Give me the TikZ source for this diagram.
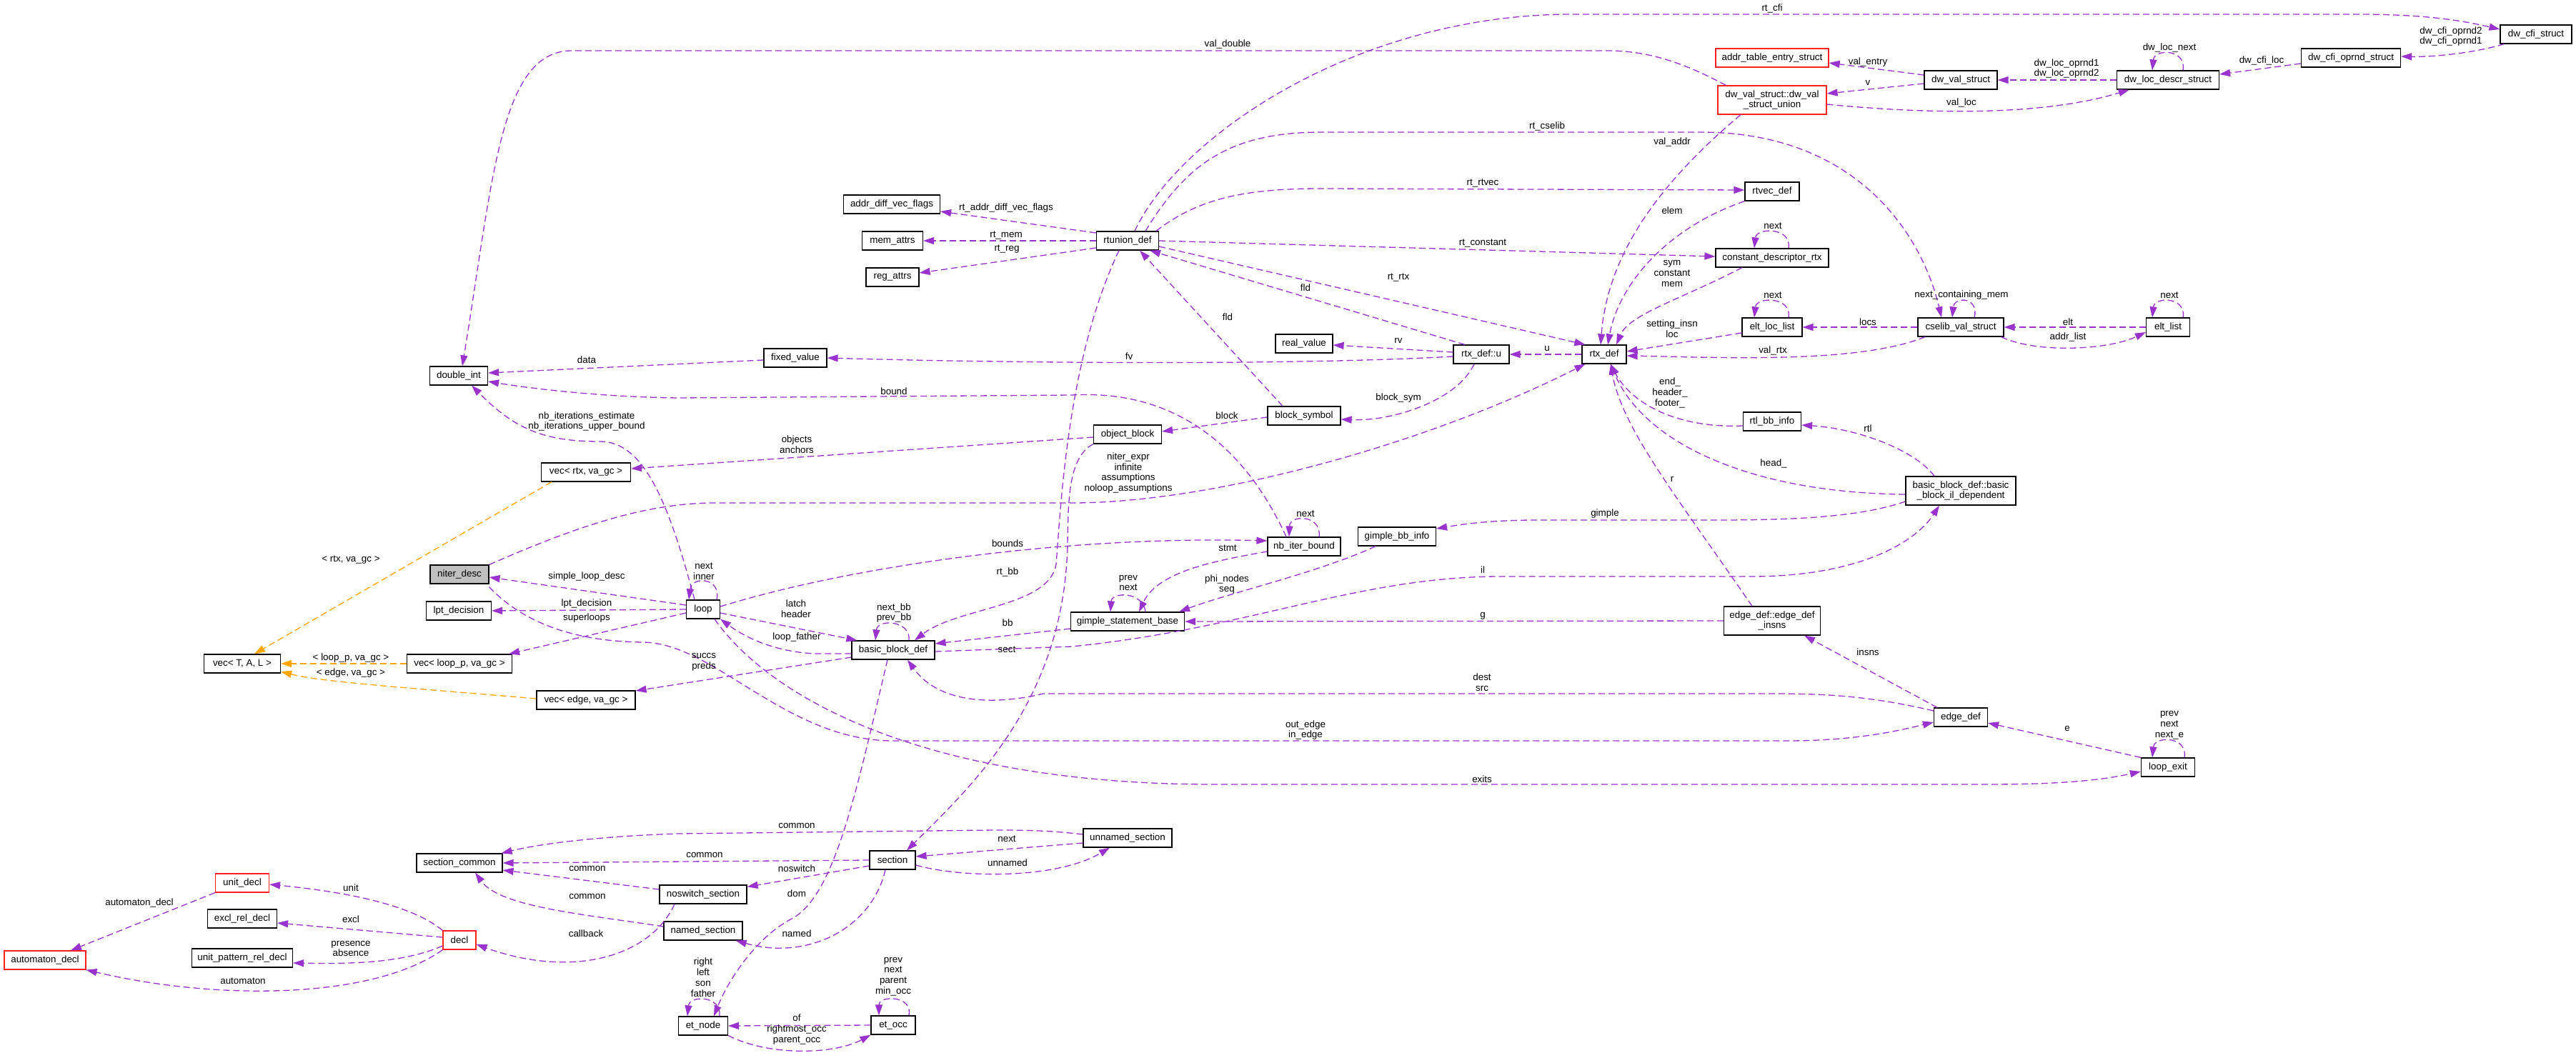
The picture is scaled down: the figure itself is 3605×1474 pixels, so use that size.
\documentclass[tikz,border=0pt]{standalone}
\usepackage{fontspec}
\setmainfont{Liberation Sans}
\usetikzlibrary{arrows.meta}
\definecolor{pc}{HTML}{9A32CD}
\definecolor{oc}{HTML}{FFA500}
\definecolor{rc}{HTML}{FF2020}
\definecolor{gc}{HTML}{BFBFBF}
\newcommand{\dxfont}{\fontsize{13.4pt}{14.8pt}\selectfont}
\begin{document}
\begin{tikzpicture}[x=1pt,y=-1pt,
 cls/.style={draw=black, line width=1.2pt, fill=white, inner sep=0pt, minimum height=26pt, font=\dxfont, align=center},
 clsr/.style={cls, draw=rc},
 lbl/.style={inner sep=0pt, font=\dxfont, align=center},
 rel/.style={draw=pc, line width=1.3pt, dash pattern=on 9pt off 5pt, -{Triangle[length=15pt,width=10pt]}},
 tpl/.style={rel, draw=oc}]
\fill[white] (0,0) rectangle (3605,1474);
\path[use as bounding box] (0,0) rectangle (3605,1474);

% ---------- nodes ----------
\node[cls, minimum width=100pt] (cfi) at (3549,48) {dw\_cfi\_struct};
\node[cls, minimum width=139pt] (cfiop) at (3290,81) {dw\_cfi\_oprnd\_struct};
\node[cls, minimum width=143pt] (locdescr) at (3034,112) {dw\_loc\_descr\_struct};
\node[cls, minimum width=102pt] (dwval) at (2744,112) {dw\_val\_struct};
\node[clsr, minimum width=158pt] (addrtab) at (2480,81) {addr\_table\_entry\_struct};
\node[clsr, minimum width=152pt, minimum height=40pt] (dwunion) at (2480,140) {dw\_val\_struct::dw\_val\\\_struct\_union};
\node[cls, minimum width=76pt] (rtvec) at (2480,268) {rtvec\_def};
\node[cls, minimum width=158pt] (cdr) at (2480,361) {constant\_descriptor\_rtx};
\node[cls, minimum width=84pt] (eltloc) at (2480,458) {elt\_loc\_list};
\node[cls, minimum width=120pt] (cselib) at (2744,458) {cselib\_val\_struct};
\node[cls, minimum width=61pt] (eltlist) at (3034,458) {elt\_list};
\node[cls, minimum width=62pt] (rtx) at (2245,496) {rtx\_def};
\node[cls, minimum width=78pt] (rtxu) at (2073,496) {rtx\_def::u};
\node[cls, minimum width=80pt] (real) at (1825,481) {real\_value};
\node[cls, minimum width=102pt] (blocksym) at (1825,582) {block\_symbol};
\node[cls, minimum width=81pt] (rtlbb) at (2480,590) {rtl\_bb\_info};
\node[cls, minimum width=154pt, minimum height=40pt] (bbil) at (2744,687) {basic\_block\_def::basic\\\_block\_il\_dependent};
\node[cls, minimum width=102pt] (nbiter) at (1825,765) {nb\_iter\_bound};
\node[cls, minimum width=109pt] (gbb) at (1955,751) {gimple\_bb\_info};
\node[cls, minimum width=135pt, minimum height=40pt] (einsns) at (2480,869) {edge\_def::edge\_def\\\_insns};
\node[cls, minimum width=75pt] (edge) at (2744,1004) {edge\_def};
\node[cls, minimum width=75pt] (lexit) at (3034,1074) {loop\_exit};
\node[cls, minimum width=135pt] (advf) at (1248,286) {addr\_diff\_vec\_flags};
\node[cls, minimum width=85pt] (mem) at (1249,337) {mem\_attrs};
\node[cls, minimum width=74pt] (reg) at (1249,388) {reg\_attrs};
\node[cls, minimum width=87pt] (rtunion) at (1578,337) {rtunion\_def};
\node[cls, minimum width=88pt] (fixed) at (1113,501) {fixed\_value};
\node[cls, minimum width=95pt] (objblock) at (1578,608) {object\_block};
\node[cls, minimum width=81pt] (dint) at (642,526) {double\_int};
\node[cls, minimum width=125pt] (vecrtx) at (820,661) {vec< rtx, va\_gc >};
\node[cls, fill=gc, minimum width=82pt] (niter) at (643,804) {niter\_desc};
\node[cls, minimum width=91pt] (lpt) at (642,855) {lpt\_decision};
\node[cls, minimum width=47pt] (loop) at (984,853) {loop};
\node[cls, minimum width=116pt] (bb) at (1250,910) {basic\_block\_def};
\node[cls, minimum width=159pt] (gsb) at (1578,870) {gimple\_statement\_base};
\node[cls, minimum width=107pt] (vectal) at (339,929) {vec< T, A, L >};
\node[cls, minimum width=147pt] (vecloop) at (643,929) {vec< loop\_p, va\_gc >};
\node[cls, minimum width=138pt] (vecedge) at (820,980) {vec< edge, va\_gc >};
\node[cls, minimum width=120pt] (seccommon) at (643,1208) {section\_common};
\node[clsr, minimum width=75pt] (unitdecl) at (339,1236) {unit\_decl};
\node[cls, minimum width=97pt] (excl) at (339,1286) {excl\_rel\_decl};
\node[cls, minimum width=141pt] (upr) at (339,1341) {unit\_pattern\_rel\_decl};
\node[clsr, minimum width=114pt] (autom) at (63,1344) {automaton\_decl};
\node[clsr, minimum width=46pt] (decl) at (643,1316) {decl};
\node[cls, minimum width=122pt] (noswitch) at (984,1252) {noswitch\_section};
\node[cls, minimum width=110pt] (named) at (984,1303) {named\_section};
\node[cls, minimum width=64pt] (section) at (1249,1204) {section};
\node[cls, minimum width=124pt] (unnamed) at (1578,1173) {unnamed\_section};
\node[cls, minimum width=69pt] (etnode) at (984,1436) {et\_node};
\node[cls, minimum width=62pt] (etocc) at (1250,1435) {et\_occ};

% ---------- edges ----------
% rtunion_def
\draw[rel] ([xshift=10pt]rtunion.north) .. controls (1650,190) and (1900,20) .. (2200,20) -- (3300,20) .. controls (3400,20) and (3450,30) .. ([yshift=7pt]cfi.west);
\draw[rel] ([xshift=25pt]rtunion.north) .. controls (1660,230) and (1720,185) .. (1850,185) -- (2380,185) .. controls (2600,185) and (2690,330) .. ([xshift=-27pt]cselib.north);
\draw[rel] ([xshift=40pt]rtunion.north) .. controls (1680,275) and (1750,264) .. (1850,264) -- ([yshift=2pt]rtvec.west);
\draw[rel] (rtunion.east) -- ([yshift=2pt]cdr.west);
\draw[rel] ([yshift=-8pt]rtunion.east) -- ([xshift=5pt]rtx.north west);
\draw[rel] ([yshift=11pt]rtunion.west) -- ([yshift=-10pt]advf.east);
\draw[rel] (rtunion.west) -- (mem.east);
\draw[rel] ([yshift=-10pt]rtunion.west) -- ([yshift=6pt]reg.east);
\draw[rel] ([xshift=-12pt]rtunion.south) .. controls (1495,500) and (1485,700) .. (1478,790) .. controls (1468,850) and (1340,850) .. ([xshift=30pt]bb.north);
\draw[rel] ([xshift=-23pt]rtxu.north) -- ([xshift=31pt]rtunion.south);
\draw[rel] ([xshift=-30pt]blocksym.north) -- ([xshift=17pt]rtunion.south);
% dwarf part
\draw[rel] ([xshift=12pt]dwunion.north west) .. controls (2360,90) and (2310,71) .. (2250,71) -- (800,71) .. controls (700,71) and (690,250) .. ([xshift=5pt]dint.north);
\draw[rel] ([xshift=-44pt]dwunion.south) .. controls (2330,250) and (2250,350) .. ([xshift=-5pt]rtx.north);
\draw[rel] ([yshift=-6pt]dwunion.east) .. controls (2680,158) and (2850,165) .. ([xshift=18pt]locdescr.south west);
\draw[rel] ([yshift=7pt]dwval.west) -- ([yshift=-7pt]addrtab.east);
\draw[rel] ([yshift=-5pt]dwval.west) -- ([yshift=9pt]dwunion.east);
\draw[rel] (locdescr.west) -- (dwval.east);
\draw[rel] ([xshift=21pt]locdescr.north) .. controls (3060,68) and (3015,68) .. ([xshift=-22pt]locdescr.north);
\draw[rel] ([yshift=-8pt]cfiop.west) -- ([yshift=8pt]locdescr.east);
\draw[rel] ([xshift=6pt]cfi.south west) .. controls (3460,75) and (3400,80) .. ([yshift=2pt]cfiop.east);
% rtx_def area
\draw[rel] (rtvec.south west) .. controls (2330,320) and (2265,400) .. ([xshift=5pt]rtx.north);
\draw[rel] ([xshift=-42pt]cdr.south) .. controls (2350,420) and (2280,440) .. ([xshift=17pt]rtx.north);
\draw[rel] ([xshift=23pt]cdr.north) .. controls (2508,318) and (2458,318) .. ([xshift=-25pt]cdr.north);
\draw[rel] ([xshift=23pt]eltloc.north) .. controls (2508,415) and (2458,415) .. ([xshift=-25pt]eltloc.north);
\draw[rel] (cselib.west) -- (eltloc.east);
\draw[rel] ([yshift=-8pt]eltloc.west) -- ([yshift=4pt]rtx.east);
\draw[rel] ([xshift=-50pt]cselib.south) .. controls (2600,510) and (2400,500) .. ([yshift=-2pt]rtx.east);
\draw[rel] ([xshift=19pt]cselib.north) .. controls (2770,415) and (2735,415) .. ([xshift=-12pt]cselib.north);
\draw[rel] (eltlist.west) -- (cselib.east);
\draw[rel] ([xshift=-4pt]cselib.south east) .. controls (2850,495) and (2950,490) .. ([yshift=-7pt]eltlist.west);
\draw[rel] ([xshift=21pt]eltlist.north) .. controls (3060,415) and (3015,415) .. ([xshift=-22pt]eltlist.north);
\draw[rel] (rtx.west) -- (rtxu.east);
\draw[rel] ([yshift=3pt]rtxu.west) -- ([yshift=-2pt]real.east);
\draw[rel] ([yshift=-3pt]rtxu.west) .. controls (1800,512) and (1400,508) .. (fixed.east);
\draw[rel] ([xshift=-10pt]rtxu.south) .. controls (2040,560) and (1950,590) .. ([yshift=-5pt]blocksym.east);
\draw[rel] ([yshift=-2pt]blocksym.west) -- ([yshift=4pt]objblock.east);
\draw[rel] ([yshift=-6pt]rtlbb.west) .. controls (2340,600) and (2280,560) .. ([xshift=9pt]rtx.south);
\draw[rel] ([yshift=-5pt]bbil.west) .. controls (2450,690) and (2300,620) .. ([xshift=9pt]rtx.south);
\draw[rel] ([xshift=-28pt]einsns.north) .. controls (2350,700) and (2270,600) .. ([xshift=9pt]rtx.south);
\draw[rel] ([xshift=-37pt]bbil.north) .. controls (2680,630) and (2600,600) .. ([yshift=-5pt]rtlbb.east);
\draw[rel] ([yshift=-15pt]bbil.west) .. controls (2600,725) and (2500,728) .. (2400,728) -- (2150,728) .. controls (2080,728) and (2040,735) .. ([yshift=11pt]gbb.east);
\draw[rel] ([yshift=-2pt]bb.east) -- (1500,905) .. controls (1750,880) and (1900,807) .. (2100,807) -- (2450,807) .. controls (2600,807) and (2680,760) .. ([xshift=-30pt]bbil.south);
\draw[rel] (einsns.west) -- (gsb.east);
\draw[rel] ([xshift=-33pt]edge.north) -- ([xshift=45pt]einsns.south);
\draw[rel] ([yshift=9pt]edge.west) .. controls (2620,975) and (2560,971) .. (2480,971) -- (1460,971) .. controls (1380,990) and (1310,980) .. ([xshift=20pt]bb.south);
\draw[rel] (lexit.north west) -- ([yshift=-8pt]edge.east);
\draw[rel] ([xshift=23pt]lexit.north) .. controls (3062,1030) and (3015,1030) .. ([xshift=-22pt]lexit.north);
% niter_desc / loop area
\draw[rel] (niter.north east) .. controls (800,740) and (900,704) .. (1000,704) -- (1500,704) .. controls (1700,704) and (2000,620) .. ([xshift=5pt]rtx.south west);
\draw[rel] ([yshift=-4pt]niter.south east) .. controls (740,880) and (820,898) .. (900,899) .. controls (1000,900) and (1100,1037) .. (1250,1037) -- (2500,1037) .. controls (2600,1037) and (2660,1022) .. ([yshift=-7pt]edge.west);
\draw[rel] ([xshift=16pt]loop.south) .. controls (1080,980) and (1300,1098) .. (1700,1098) -- (2780,1098) .. controls (2900,1098) and (2950,1090) .. ([yshift=-6pt]lexit.west);
\draw[rel] ([yshift=-3pt]fixed.west) -- ([yshift=4pt]dint.east);
\draw[rel] ([xshift=-25pt]nbiter.north) .. controls (1740,620) and (1640,545) .. (1500,553) -- (950,557) .. controls (850,556) and (750,545) .. ([yshift=-8pt]dint.east);
\draw[rel] ([xshift=-12pt]loop.north) .. controls (935,700) and (900,618) .. (840,618) .. controls (760,618) and (720,600) .. ([xshift=18pt]dint.south);
\draw[rel] ([yshift=-4pt]objblock.west) -- ([yshift=5pt]vecrtx.east);
\draw[tpl] ([xshift=-48pt]vecrtx.south) -- ([xshift=17pt]vectal.north);
\draw[tpl] (vecloop.west) -- (vectal.east);
\draw[tpl] ([yshift=2pt]vecedge.west) .. controls (600,965) and (450,955) .. ([yshift=-11pt]vectal.east);
\draw[rel] ([yshift=6pt]loop.west) -- ([yshift=-4pt]niter.east);
\draw[rel] (loop.west) -- (lpt.east);
\draw[rel] ([yshift=-5pt]loop.west) -- ([xshift=-5pt]vecloop.north east);
\draw[rel] ([xshift=19pt]loop.north) .. controls (1010,808) and (968,806) .. ([xshift=-20pt]loop.north);
\draw[rel] ([yshift=-5pt]loop.east) -- ([xshift=8pt]bb.north west);
\draw[rel] ([yshift=-5pt]bb.west) -- (1140,915) .. controls (1080,912) and (1040,890) .. (loop.south east);
\draw[rel] ([yshift=-10pt]bb.west) -- ([yshift=13pt]vecedge.east);
\draw[rel] ([xshift=22pt]bb.north) .. controls (1275,868) and (1228,866) .. ([xshift=-25pt]bb.north);
\draw[rel] ([yshift=4pt]loop.east) .. controls (1200,790) and (1500,750) .. ([yshift=8pt]nbiter.west);
\draw[rel] (objblock.south west) .. controls (1495,640) and (1495,700) .. (1494,760) .. controls (1490,980) and (1360,1100) .. ([xshift=20pt]section.north);
\draw[rel] ([yshift=-10pt]gsb.west) -- ([yshift=9pt]bb.east);
\draw[rel] ([xshift=25pt]gsb.north) .. controls (1600,828) and (1556,828) .. ([xshift=-24pt]gsb.north);
\draw[rel] ([yshift=-7pt]nbiter.west) .. controls (1700,785) and (1620,800) .. ([xshift=16pt]gsb.north);
\draw[rel] ([xshift=-30pt]gbb.south) .. controls (1850,800) and (1720,830) .. ([xshift=-8pt]gsb.north east);
\draw[rel] ([xshift=21pt]nbiter.north) .. controls (1850,720) and (1805,720) .. ([xshift=-21pt]nbiter.north);
% sections
\draw[rel] ([xshift=-8pt]bb.south) .. controls (1200,1100) and (1170,1250) .. (1110,1285) .. controls (1060,1310) and (1020,1370) .. ([xshift=15pt]etnode.north);
\draw[rel] ([xshift=-10pt]section.south) .. controls (1220,1300) and (1130,1345) .. ([xshift=-10pt]named.south east);
\draw[rel] ([yshift=-8pt]section.west) -- ([yshift=-3pt]noswitch.north east);
\draw[rel] (section.west) -- (seccommon.east);
\draw[rel] ([yshift=5pt]unnamed.west) .. controls (1450,1160) and (1400,1162) .. (1300,1163) -- (950,1167) .. controls (850,1170) and (760,1180) .. ([xshift=-2pt]seccommon.north east);
\draw[rel] ([yshift=7pt]noswitch.west) -- ([yshift=-10pt]seccommon.east);
\draw[rel] ([yshift=6pt]named.west) .. controls (820,1280) and (700,1270) .. ([xshift=22pt]seccommon.south);
\draw[rel] ([yshift=-7pt]unnamed.west) -- ([yshift=5pt]section.east);
\draw[rel] ([yshift=-7pt]section.east) .. controls (1350,1230) and (1480,1230) .. ([xshift=-25pt]unnamed.south);
\draw[rel] ([xshift=-40pt]noswitch.south) .. controls (910,1340) and (800,1370) .. ([yshift=-6pt]decl.east);
\draw[rel] (decl.north west) .. controls (580,1270) and (500,1250) .. ([yshift=-2pt]unitdecl.east);
\draw[rel] ([yshift=4pt]decl.west) -- ([yshift=-6pt]excl.east);
\draw[rel] ([yshift=-8pt]decl.west) .. controls (560,1350) and (480,1349) .. ([yshift=-7pt]upr.east);
\draw[rel] (decl.south west) .. controls (520,1400) and (300,1400) .. (autom.south east);
\draw[rel] (unitdecl.south west) -- ([xshift=36pt]autom.north);
\draw[rel] ([xshift=23pt]etnode.north) .. controls (1010,1393) and (965,1393) .. ([xshift=-22pt]etnode.north);
\draw[rel] ([xshift=22pt]etocc.north) .. controls (1278,1393) and (1230,1393) .. ([xshift=-20pt]etocc.north);
\draw[rel] (etocc.west) -- (etnode.east);
\draw[rel] (etnode.south east) .. controls (1080,1480) and (1170,1475) .. (etocc.south west);

% ---------- labels ----------
\node[lbl] (l1) at (2480,12) {rt\_cfi};
\node[lbl] (l2) at (1718,62) {val\_double};
\node[lbl] (l3) at (2614,87) {val\_entry};
\node[lbl] (l4) at (2614,116) {v};
\node[lbl] (l5) at (2745,144) {val\_loc};
\node[lbl] (l6) at (2892,96) {dw\_loc\_oprnd1\\dw\_loc\_oprnd2};
\node[lbl] (l7) at (3036,67) {dw\_loc\_next};
\node[lbl] (l8) at (3165,85) {dw\_cfi\_loc};
\node[lbl] (l9) at (3430,51) {dw\_cfi\_oprnd2\\dw\_cfi\_oprnd1};
\node[lbl] (l10) at (2165,177) {rt\_cselib};
\node[lbl] (l11) at (2340,199) {val\_addr};
\node[lbl] (l12) at (2075,256) {rt\_rtvec};
\node[lbl] (l13) at (2340,295) {elem};
\node[lbl] (l14) at (2481,316) {next};
\node[lbl] (l15) at (2075,340) {rt\_constant};
\node[lbl] (l16) at (2340,383) {sym\\constant\\mem};
\node[lbl] (l17) at (1957,388) {rt\_rtx};
\node[lbl] (l18) at (1827,403) {fld};
\node[lbl] (l19) at (2481,413) {next};
\node[lbl] (l20) at (2745,413) {next\_containing\_mem};
\node[lbl] (l21) at (3036,413) {next};
\node[lbl] (l22) at (2340,460) {setting\_insn\\loc};
\node[lbl] (l23) at (2614,451) {locs};
\node[lbl] (l24) at (2894,451) {elt};
\node[lbl] (l25) at (2894,472) {addr\_list};
\node[lbl] (l26) at (1957,477) {rv};
\node[lbl] (l27) at (2165,488) {u};
\node[lbl] (l28) at (2481,491) {val\_rtx};
\node[lbl] (l29) at (1957,557) {block\_sym};
\node[lbl] (l30) at (2337,550) {end\_\\header\_\\footer\_};
\node[lbl] (l31) at (2614,600) {rtl};
\node[lbl] (l32) at (2482,649) {head\_};
\node[lbl] (l33) at (2340,671) {r};
\node[lbl] (l34) at (1827,719) {next};
\node[lbl] (l35) at (2246,719) {gimple};
\node[lbl] (l36) at (2075,798) {il};
\node[lbl] (l37) at (2075,862) {g};
\node[lbl] (l38) at (2614,913) {insns};
\node[lbl] (l39) at (2074,955) {dest\\src};
\node[lbl] (l40) at (1827,1022) {out\_edge\\in\_edge};
\node[lbl] (l41) at (2074,1091) {exits};
\node[lbl] (l42) at (2893,1020) {e};
\node[lbl] (l43) at (3036,1015) {prev\\next\\next\_e};
\node[lbl] (l44) at (1408,291) {rt\_addr\_diff\_vec\_flags};
\node[lbl] (l45) at (1408,329) {rt\_mem};
\node[lbl] (l46) at (1409,349) {rt\_reg};
\node[lbl] (l47) at (1718,444) {fld};
\node[lbl] (l48) at (1580,499) {fv};
\node[lbl] (l49) at (1251,548) {bound};
\node[lbl] (l50) at (1717,582) {block};
\node[lbl] (l51) at (1115,622) {objects\\anchors};
\node[lbl] (l52) at (1579,662) {niter\_expr\\infinite\\assumptions\\noloop\_assumptions};
\node[lbl] (l53) at (821,504) {data};
\node[lbl] (l54) at (821,590) {nb\_iterations\_estimate\\nb\_iterations\_upper\_bound};
\node[lbl] (l55) at (491,784) {< rtx, va\_gc >};
\node[lbl] (l56) at (821,807) {simple\_loop\_desc};
\node[lbl] (l57) at (821,845) {lpt\_decision};
\node[lbl] (l58) at (821,865) {superloops};
\node[lbl] (l59) at (491,921) {< loop\_p, va\_gc >};
\node[lbl] (l60) at (491,942) {< edge, va\_gc >};
\node[lbl] (l61) at (1410,761) {bounds};
\node[lbl] (l62) at (1410,801) {rt\_bb};
\node[lbl] (l63) at (985,800) {next\\inner};
\node[lbl] (l64) at (1114,852) {latch\\header};
\node[lbl] (l65) at (1251,858) {next\_bb\\prev\_bb};
\node[lbl] (l66) at (1579,816) {prev\\next};
\node[lbl] (l67) at (1718,767) {stmt};
\node[lbl] (l68) at (1717,818) {phi\_nodes\\seq};
\node[lbl] (l69) at (1115,892) {loop\_father};
\node[lbl] (l70) at (1410,872) {bb};
\node[lbl] (l71) at (1409,909) {sect};
\node[lbl] (l72) at (985,927) {succs\\preds};
\node[lbl] (l73) at (1115,1156) {common};
\node[lbl] (l74) at (1409,1174) {next};
\node[lbl] (l75) at (986,1197) {common};
\node[lbl] (l76) at (1410,1208) {unnamed};
\node[lbl] (l77) at (1115,1216) {noswitch};
\node[lbl] (l78) at (822,1216) {common};
\node[lbl] (l79) at (1115,1251) {dom};
\node[lbl] (l80) at (822,1255) {common};
\node[lbl] (l81) at (820,1307) {callback};
\node[lbl] (l82) at (1115,1307) {named};
\node[lbl] (l83) at (491,1243) {unit};
\node[lbl] (l84) at (195,1264) {automaton\_decl};
\node[lbl] (l85) at (491,1287) {excl};
\node[lbl] (l86) at (491,1328) {presence\\absence};
\node[lbl] (l87) at (340,1373) {automaton};
\node[lbl] (l88) at (984,1368) {right\\left\\son\\father};
\node[lbl] (l89) at (1250,1367) {prev\\next\\parent\\min\_occ};
\node[lbl] (l90) at (1115,1441) {of\\rightmost\_occ\\parent\_occ};
\end{tikzpicture}
\end{document}
